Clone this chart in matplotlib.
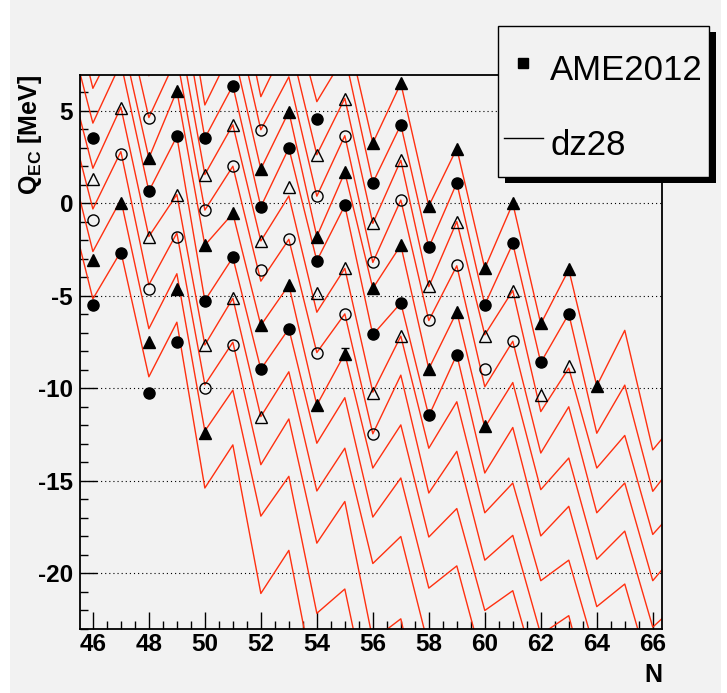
import matplotlib
matplotlib.use('Agg')
import matplotlib.pyplot as plt
from matplotlib.patches import Rectangle
from matplotlib.lines import Line2D
from matplotlib.ticker import MultipleLocator
import numpy as np

plt.rcParams['font.family'] = ['Liberation Sans', 'DejaVu Sans']
plt.rcParams['axes.unicode_minus'] = False
plt.rcParams['mathtext.fontset'] = 'custom'
plt.rcParams['mathtext.bf'] = 'Liberation Sans:bold'
plt.rcParams['mathtext.rm'] = 'Liberation Sans'

nan = np.nan

# dz28 predictions, one zigzag per isotopic chain, at N = 45 .. 67
n_line = list(range(45, 68))
dz_c0 = [0.9, -5.16, -2.6, -9.37, -6.42, -15.38, -13.05, -21.08, -18.75, -26.5,
         nan, nan, nan, nan, nan, nan, nan, nan, nan, nan, nan, nan, nan]
dz_c1 = [3.5, -2.6, 0.2, -6.77, -3.8, -12.3, -10.09, -16.9, -14.75, -22.15,
         -20.84, -28.0, nan, nan, nan, nan, nan, nan, nan, nan, nan, nan, nan]
dz_c2 = [5.6, -0.3, 2.8, -4.4, -1.6, -9.8, -7.5, -14.12, -11.65, -18.36,
         -16.11, -23.6, -22.45, -29.0, nan, nan, nan, nan, nan, nan, nan, nan, nan]
dz_c3 = [7.8, 1.9, 5.2, -1.79, 0.48, -7.65, -5.13, -11.52, -9.1, -15.54,
         -13.23, -19.46, -18.0, -24.0, nan, nan, nan, nan, nan, nan, nan, nan, nan]
dz_c4 = [10.2, 4.34, 7.6, 0.66, 3.62, -5.25, -2.92, -8.96, -6.77, -12.96,
         -10.5, -16.95, -14.84, -20.79, -19.59, -25.2, nan, nan, nan, nan, nan, nan, nan]
dz_c5 = [12.5, 6.22, 9.2, 2.45, 6.09, -2.26, -0.54, -6.59, -4.41, -10.9,
         -8.12, -14.3, -11.97, -18.03, -16.49, -22.0, -20.93, -26.2, nan, nan, nan, nan, nan]
dz_c6 = [14.5, 8.4, 11.2, 4.64, 7.9, -0.36, 2.01, -4.2, -1.94, -8.06,
         -5.97, -12.45, -9.28, -15.65, -13.4, -19.28, -17.94, -23.3, -22.28, -28.0, nan, nan, nan]
dz_c7 = [nan, 10.6, 13.6, 6.9, 9.9, 1.56, 4.25, -2.03, 0.4, -5.88,
         -3.51, -10.2, -7.17, -13.23, -10.72, -16.72, -15.11, -20.39, -19.28, -24.5, nan, nan, nan]
dz_c8 = [nan, nan, 16.0, 9.3, 12.2, 3.53, 6.37, -0.18, 2.99, -3.1,
         -0.11, -7.1, -5.38, -11.49, -8.17, -14.57, -12.11, -17.97, -16.37, -21.79, -20.57, -25.8, nan]
dz_c9 = [nan, nan, nan, 11.8, 14.3, 5.32, 8.4, 1.86, 4.96, -1.79,
         1.68, -4.59, -2.26, -8.94, -5.86, -12.11, -9.68, -15.47, -13.76, -19.23, -17.71, -22.9, -21.5]
dz_c10 = [nan, nan, nan, nan, 16.5, 7.6, 10.6, 3.98, 6.84, 0.39,
          3.66, -3.19, 0.18, -6.33, -3.37, -9.91, -7.45, -13.49, -10.99, -16.72, -15.11, -20.39, -18.6]
dz_c11 = [nan, nan, nan, nan, nan, 10.0, 13.0, 5.77, 8.9, 2.63,
          5.68, -1.08, 2.33, -4.5, -0.98, -7.1, -4.71, -11.25, -8.9, -14.3, -12.54, -17.89, -16.2]
dz_c12 = [nan, nan, nan, nan, nan, nan, 14.5, 8.1, 11.2, 5.5,
          8.0, 1.11, 4.25, -2.38, 1.11, -5.48, -2.17, -8.6, -5.97, -12.42, -9.82, -15.56, -13.6]
dz_c13 = [nan, nan, nan, nan, nan, nan, nan, 10.5, 13.5, 7.4,
          9.8, 3.26, 6.49, -0.14, 2.97, -3.51, 0.0, -6.51, -3.58, -9.86, -6.86, -13.32, -11.5]
dz_lines = [dz_c0, dz_c1, dz_c2, dz_c3, dz_c4, dz_c5, dz_c6,
            dz_c7, dz_c8, dz_c9, dz_c10, dz_c11, dz_c12, dz_c13]

# AME2012 values per chain (N, Q_EC)
ame_n_c0 = [46, 47, 48, 49]
ame_q_c0 = [-5.50, -2.69, -10.22, -7.50]
ame_n_c1 = [46, 47, 48, 49, 50]
ame_q_c1 = [-3.05, 0.00, -7.49, -4.62, -12.42]
ame_n_c2 = [46, 47, 48, 49, 50, 51]
ame_q_c2 = [-0.90, 2.67, -4.62, -1.79, -9.96, -7.63]
ame_n_c3 = [46, 47, 48, 49, 50, 51, 52]
ame_q_c3 = [1.34, 5.14, -1.79, 0.48, -7.65, -5.13, -11.52]
ame_n_c4 = [46, 48, 49, 50, 51, 52, 53]
ame_q_c4 = [3.53, 0.66, 3.62, -5.25, -2.92, -8.96, -6.77]
ame_n_c5 = [48, 49, 50, 51, 52, 53, 54, 55]
ame_q_c5 = [2.45, 6.09, -2.26, -0.54, -6.59, -4.41, -10.90, -8.12]
ame_n_c6 = [48, 50, 51, 52, 53, 54, 55, 56]
ame_q_c6 = [4.64, -0.36, 2.01, -3.58, -1.94, -8.06, -5.97, -12.45]
ame_n_c7 = [50, 51, 52, 53, 54, 55, 56, 57]
ame_q_c7 = [1.56, 4.25, -2.03, 0.90, -4.85, -3.51, -10.22, -7.17]
ame_n_c8 = [50, 51, 52, 53, 54, 55, 56, 57, 58, 59]
ame_q_c8 = [3.53, 6.37, -0.18, 2.99, -3.10, -0.11, -7.07, -5.36, -11.46, -8.18]
ame_n_c9 = [52, 53, 54, 55, 56, 57, 58, 59, 60]
ame_q_c9 = [1.86, 4.96, -1.82, 1.68, -4.59, -2.26, -8.94, -5.85, -12.02]
ame_n_c10 = [52, 54, 55, 56, 57, 58, 59, 60, 61]
ame_q_c10 = [3.98, 0.39, 3.66, -3.19, 0.18, -6.30, -3.35, -8.94, -7.45]
ame_n_c11 = [54, 55, 56, 57, 58, 59, 60, 61, 62, 63]
ame_q_c11 = [2.60, 5.65, -1.08, 2.33, -4.49, -0.99, -7.16, -4.71, -10.37, -8.8]
ame_n_c12 = [54, 56, 57, 58, 59, 60, 61, 62, 63]
ame_q_c12 = [4.55, 1.11, 4.25, -2.38, 1.11, -5.48, -2.16, -8.55, -6.0]
ame_n_c13 = [56, 57, 58, 59, 60, 61, 62, 63, 64]
ame_q_c13 = [3.28, 6.49, -0.14, 2.96, -3.49, 0.02, -6.48, -3.56, -9.86]
ame_n = [ame_n_c0, ame_n_c1, ame_n_c2, ame_n_c3, ame_n_c4, ame_n_c5, ame_n_c6,
         ame_n_c7, ame_n_c8, ame_n_c9, ame_n_c10, ame_n_c11, ame_n_c12, ame_n_c13]
ame_q = [ame_q_c0, ame_q_c1, ame_q_c2, ame_q_c3, ame_q_c4, ame_q_c5, ame_q_c6,
         ame_q_c7, ame_q_c8, ame_q_c9, ame_q_c10, ame_q_c11, ame_q_c12, ame_q_c13]

# the one point drawn with a visible error bar
err_n = [55]
err_q = [-8.12]
err_dq = [0.3]

W, H = 727, 693
bg = '#f2f2f2'
red = '#ff3010'

fig = plt.figure(figsize=(W / 100, H / 100), dpi=100)
fig.patch.set_facecolor('white')
fig.add_artist(Rectangle((10 / W, 0), 711 / W, 1, transform=fig.transFigure,
                         facecolor=bg, edgecolor='none', zorder=-10))

ax = fig.add_axes([80 / W, 1 - 629 / H, 582 / W, 554 / H])
ax.set_facecolor(bg)

for vals in dz_lines:
    ax.plot(n_line, vals, color=red, lw=1.0, zorder=2)

# marker cycle: filled circle, filled triangle, open circle, open triangle
styles = [('o', 'black'), ('^', 'black'), ('o', 'none'), ('^', 'none')]
for i in range(len(ame_n)):
    m, fc = styles[i % 4]
    ax.plot(ame_n[i], ame_q[i], ls='none', marker=m, markersize=8.5 if m == '^' else 8,
            markerfacecolor=fc, markeredgecolor='black', markeredgewidth=1.0, zorder=3)

ax.errorbar(err_n, err_q, yerr=err_dq, fmt='none', ecolor='black', elinewidth=1,
            capsize=3, capthick=1, zorder=3)

ax.set_xlim(45.54, 66.33)
ax.set_ylim(-23.0, 6.94)
ax.xaxis.set_major_locator(MultipleLocator(2))
ax.xaxis.set_minor_locator(MultipleLocator(0.5))
ax.yaxis.set_major_locator(MultipleLocator(5))
ax.yaxis.set_minor_locator(MultipleLocator(1))
ax.tick_params(which='both', direction='in', top=False, right=False, width=1.0)
ax.tick_params(which='major', length=12)
ax.tick_params(which='minor', length=6)
ax.tick_params(axis='x', pad=3)
ax.tick_params(axis='y', pad=5)
for lab in ax.get_xticklabels() + ax.get_yticklabels():
    lab.set_fontsize(17.5)
    lab.set_fontweight('bold')
ax.yaxis.grid(True, which='major', color='black', lw=0.8, ls=(0, (1, 2.7)))
for s in ax.spines.values():
    s.set_linewidth(1.3)

ax.set_ylabel(r'$\mathbf{Q_{EC}}$ [MeV]', fontsize=18, fontweight='bold', loc='top')
ax.yaxis.set_label_coords(-0.062, 1.0)
ax.set_xlabel('N', fontsize=18, fontweight='bold', loc='right')
ax.xaxis.set_label_coords(1.0, -0.062)

# legend box with ROOT-like shadow
bx0, by0, bx1, by1 = 498, 26, 709, 177
fig.add_artist(Rectangle(((bx0 + 7) / W, 1 - (by1 + 6) / H), (bx1 - bx0) / W, (by1 - by0) / H,
                         transform=fig.transFigure, facecolor='black', edgecolor='none', zorder=5))
fig.add_artist(Rectangle((bx0 / W, 1 - by1 / H), (bx1 - bx0) / W, (by1 - by0) / H,
                         transform=fig.transFigure, facecolor=bg, edgecolor='black', lw=1.0, zorder=6))
fig.add_artist(Line2D([523 / W], [1 - 63 / H], marker='s', color='black', markersize=7.5,
                      transform=fig.transFigure, zorder=7))
fig.add_artist(Line2D([504 / W, 543 / W], [1 - 138 / H, 1 - 138 / H], color='black', lw=1.0,
                      transform=fig.transFigure, zorder=7))
fig.text(550 / W, 1 - 80 / H, 'AME2012', fontsize=25, va='baseline', zorder=7)
fig.text(551 / W, 1 - 155 / H, 'dz28', fontsize=25, va='baseline', zorder=7)

fig.savefig('out.png', dpi=100, facecolor=fig.get_facecolor())
